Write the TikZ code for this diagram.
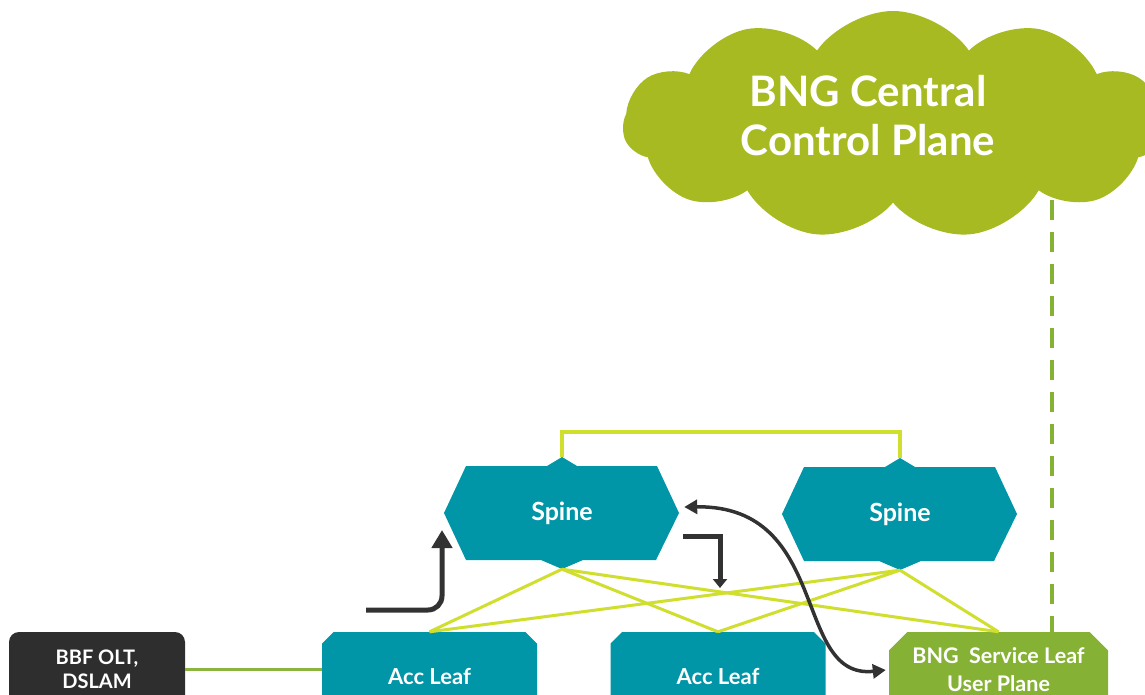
\documentclass[tikz,border=0pt]{standalone}
\usepackage{fontspec}
\setmainfont{Lato}
\usetikzlibrary{arrows.meta}
\usetikzlibrary{calc}
\usetikzlibrary{positioning}
\usetikzlibrary{shapes.misc,shapes.symbols}

\definecolor{spinecol}{RGB}{0,150,167}
\definecolor{bbfcol}{RGB}{46,46,46}
\definecolor{bngcol}{RGB}{133,178,52}
\definecolor{cloudcol}{RGB}{168,186,34}
\definecolor{meshcol}{RGB}{208,222,45}
\definecolor{linkcol}{RGB}{140,180,60}
\definecolor{flowcol}{RGB}{50,50,50}

\begin{document}
\begin{tikzpicture}[
  x=1pt, y=-1pt,
  > = {Triangle[length=18pt,width=20pt]},
  mesh/.style = {draw=meshcol, line width=3pt},
  link/.style = {draw=linkcol, line width=3pt},
  ctrl/.style = {draw=bngcol, line width=4pt, dash pattern=on 20pt off 12pt},
  flow/.style = {draw=flowcol, line width=5pt},
  spine/.style = {minimum width=236pt, minimum height=112pt, inner sep=0pt,
    text=white, font=\fontsize{25}{29}\selectfont\bfseries},
  leaf/.style = {chamfered rectangle, chamfered rectangle corners={north west,north east},
    chamfered rectangle xsep=15pt, chamfered rectangle angle=45, fill=spinecol,
    minimum width=215pt, minimum height=88pt, inner sep=0pt, text=white,
    font=\fontsize{22}{26}\selectfont\bfseries},
  box/.style = {rounded corners=10pt, fill=bbfcol, minimum width=176pt, minimum height=74pt,
    inner sep=0pt, text=white, align=center, font=\fontsize{20}{24}\selectfont\bfseries},
  cptext/.style = {text=white, align=center, font=\fontsize{42}{49}\selectfont\bfseries}
  ]
  \useasboundingbox (0,0) rectangle (1145,695);
  \clip (0,0) rectangle (1145,695);

  % control plane cloud
  \node[cloud, cloud puffs=11, cloud puff arc=110, cloud ignores aspect, fill=cloudcol,
    minimum width=540pt, minimum height=228pt, inner sep=0pt] (cpcloud) at (893,125) {};
  \node[cptext] (cplabel) at (868,116) {BNG Central\\Control Plane};

  % leaves
  \node[box] (bbf) at (97,669) {BBF OLT,\\DSLAM};
  \node[leaf] (accA) at (429.5,676) {Acc Leaf};
  \node[leaf] (accB) at (718,676) {Acc Leaf};
  \node[leaf, fill=bngcol, minimum width=219pt, minimum height=76pt, align=center,
    font=\fontsize{21.5}{28}\selectfont\bfseries] (bng) at (998.5,670) {BNG\ \ Service Leaf\\User Plane};

  % spines
  \foreach \nm/\x/\y in {spineA/562/513, spineB/900/514} {
    \fill[spinecol] (\x-118,\y) -- (\x-96,\y-47) -- (\x-15,\y-47) -- (\x,\y-56) -- (\x+15,\y-47)
      -- (\x+95,\y-47) -- (\x+117,\y) -- (\x+94,\y+47) -- (\x+21,\y+47) -- (\x,\y+56)
      -- (\x-21,\y+47) -- (\x-96,\y+47) -- cycle;
    \node[spine] (\nm) at (\x,\y) {Spine};
  }

  % fabric links
  \draw[mesh, line width=4pt] (spineA.north) -- ++(0,-25) -| (spineB.north);
  \foreach \s in {spineA,spineB}
    \foreach \l in {accA,accB,bng}
      \draw[mesh] (\s.south) -- (\l.north);
  \draw[link] (bbf.east) -- (bbf.east -| accA.west);

  \coordinate (cpfoot) at (1052,200);
  \draw[ctrl] (cpfoot) -- (cpfoot |- bng.north);

  % traffic arrows
  \coordinate (upIn) at (366,610);
  \coordinate (upTip) at (442,530);
  \coordinate (dnIn) at (683,536);
  \coordinate (dnTip) at (720,588);
  \draw[flow, ->, rounded corners=14pt] (upIn) -| (upTip);
  \draw[flow, -{Triangle[length=9pt,width=14pt]}] (dnIn) -| (dnTip);
  \draw[flow, line width=3.5pt, {Triangle[length=13pt,width=14pt]}-{Triangle[length=13pt,width=14pt]}]
    ([xshift=4pt,yshift=6pt]spineA.east) .. controls (832,505) and (792,680) .. ([xshift=-3pt]bng.west);

\end{tikzpicture}
\end{document}
